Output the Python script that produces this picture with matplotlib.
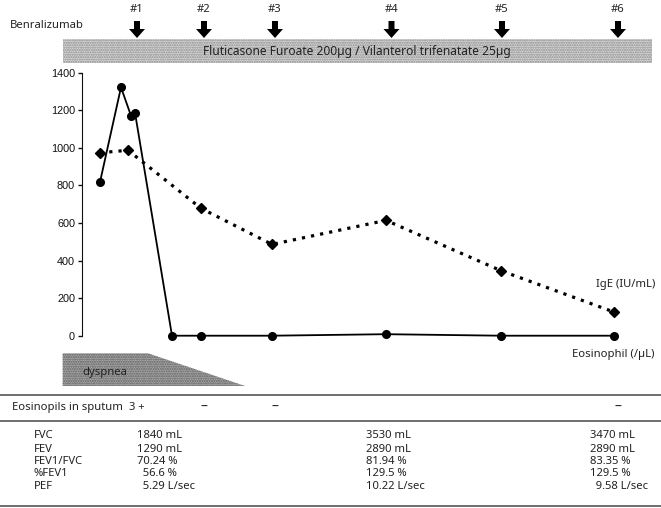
import matplotlib.pyplot as plt
import matplotlib.patches as mpatches
import matplotlib.transforms as mtransforms

# time axis (arbitrary units, spacing)
eos_t = [1.8, 3.9, 4.9, 5.3, 9.0, 11.9, 19.0, 30.4, 41.9, 53.2]
eos_val = [818, 1322, 1171, 1187, 0, 0, 0, 8, 0, 0]
ige_t = [1.8, 4.6, 11.9, 19.0, 30.4, 41.9, 53.2]
ige_val = [974, 987, 678, 486, 614, 346, 126]

dose_t = [5.5, 12.2, 19.3, 30.95, 42.0, 53.6]
dose_lab = ['#1', '#2', '#3', '#4', '#5', '#6']

sputum_dose = [0, 1, 2, 5]
sputum_val = ['3 +', '–', '–', '–']

pft_names = ['FVC', 'FEV', 'FEV1/FVC', '%FEV1', 'PEF']
pft_v1 = ['1840 mL', '1290 mL', '70.24 %', '  56.6 %', '  5.29 L/sec']
pft_v2 = ['3530 mL', '2890 mL', '81.94 %', '129.5 %', '10.22 L/sec']
pft_v3 = ['3470 mL', '2890 mL', '83.35 %', '129.5 %', '  9.58 L/sec']

W, H = 661, 508
txt = ['Noto Sans', 'DejaVu Sans']
tc = '#222222'
fs = 8.1

fig = plt.figure(figsize=(W / 100, H / 100), dpi=100)

# layout layer in pixel coordinates
lay = fig.add_axes([0, 0, 1, 1])
lay.set_xlim(0, W)
lay.set_ylim(H, 0)
lay.axis('off')

ax = fig.add_axes([82 / W, (H - 335.7) / H, 570 / W, 263 / H])
ax.set_facecolor('none')
ax.set_xlim(0, 57)
ax.set_ylim(0, 1400)
ax.set_yticks(range(0, 1401, 200))
ax.set_xticks([])
for s in ['top', 'right', 'bottom']:
    ax.spines[s].set_visible(False)
ax.spines['left'].set_color('#111111')
ax.tick_params(axis='y', length=3, width=1, labelsize=7.8, colors='#111111', pad=2)
for lb in ax.get_yticklabels():
    lb.set_family('Liberation Sans')

ax.plot(eos_t, eos_val, color='black', lw=1.3, marker='o', ms=5.5, clip_on=False, zorder=3)
ax.plot(ige_t, ige_val, color='black', lw=2.3, ls=(0, (1, 1.9)), marker='D', ms=5.5,
        clip_on=False, zorder=3)

lay.text(655, 285, 'IgE (IU/mL)', ha='right', va='center', fontsize=fs, family=txt, color=tc)
lay.text(655, 354, 'Eosinophil (/µL)', ha='right', va='center', fontsize=fs, family=txt, color=tc)

# treatment bars
lay.add_patch(mpatches.Rectangle((62.7, 39.3), 589, 24, facecolor='#d6d6d6', edgecolor='#8c8c8c',
                                 hatch='.......', lw=0))
lay.text(357, 51.5, 'Fluticasone Furoate 200µg / Vilanterol trifenatate 25µg', ha='center', va='center',
         fontsize=8.6, family=txt, color=tc)
lay.text(10, 25, 'Benralizumab', ha='left', va='center', fontsize=fs, family=txt, color=tc)

mix = mtransforms.blended_transform_factory(ax.transData, lay.transData)
for t, lab in zip(dose_t, dose_lab):
    lay.add_patch(mpatches.FancyArrow(t, 21, 0, 17, width=0.6, head_width=1.6, head_length=9,
                                      length_includes_head=True, color='black', lw=0, transform=mix))
    lay.text(t, 9, lab, transform=mix, ha='center', va='center', fontsize=fs, family=txt, color=tc)

# dyspnea
lay.add_patch(mpatches.Polygon([(62.7, 353.3), (148, 353.3), (245, 386), (62.7, 386)],
                               facecolor='#a8a8a8', edgecolor='#5e5e5e', hatch='.......', lw=0))
lay.text(82, 372, 'dyspnea', ha='left', va='center', fontsize=fs, family=txt, color=tc)

# table
for y in [395, 420.7, 506]:
    lay.plot([0, W], [y, y], color='#555555', lw=1.2)
lay.text(11.7, 407.5, 'Eosinopils in sputum', ha='left', va='center', fontsize=fs, family=txt, color=tc)
for i, v in zip(sputum_dose, sputum_val):
    lay.text(dose_t[i], 407.5, v, transform=mix, ha='center', va='center', family=txt, color=tc,
             fontsize=fs if v == '3 +' else 10, weight='normal' if v == '3 +' else 'bold')

rows_y = [436, 449, 461.5, 474, 486.5]
for k, y in enumerate(rows_y):
    lay.text(34, y, pft_names[k], ha='left', va='center', fontsize=fs, family=txt, color=tc)
    lay.text(137, y, pft_v1[k], ha='left', va='center', fontsize=fs, family=txt, color=tc)
    lay.text(366, y, pft_v2[k], ha='left', va='center', fontsize=fs, family=txt, color=tc)
    lay.text(590, y, pft_v3[k], ha='left', va='center', fontsize=fs, family=txt, color=tc)

fig.savefig('out.png', dpi=100)
